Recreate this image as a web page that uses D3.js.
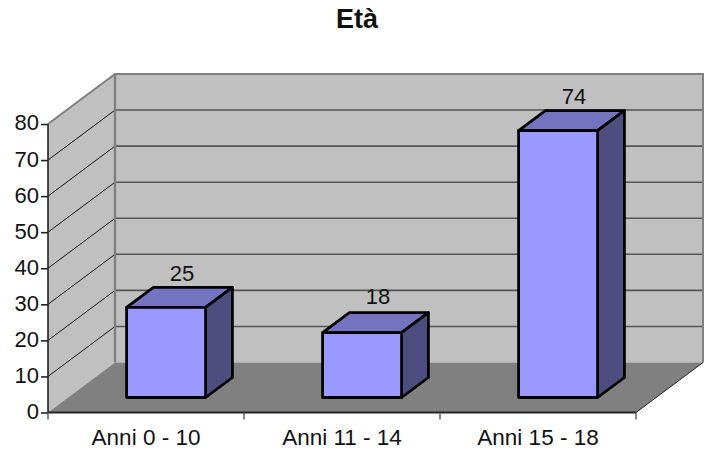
<!DOCTYPE html>
<html><head><meta charset="utf-8">
<script src="https://cdn.jsdelivr.net/npm/d3@7"></script>
<style>html,body{margin:0;padding:0;background:#fff}svg{display:block}text{font-family:"Liberation Sans",Arial,sans-serif;fill:#111}</style>
</head><body><svg id="c" width="707" height="456"></svg>
<script>
const categories = ["Anni 0 - 10","Anni 11 - 14","Anni 15 - 18"];
const values = [25,18,74];
const yTicks = [0,10,20,30,40,50,60,70,80];
const chartTitle = "Età";

const svg = d3.select("#c");
const x = d3.scaleBand().domain(categories).range([48,636]).paddingInner(0).paddingOuter(0);
const y = d3.scaleLinear().domain([0,80]).range([412.5,124]);
const depth = {dx:67,dy:-50};
const barFront = .3, barBack = .7, barWidth = 79;
const labelLift = [6,9,7];
const P = pts => pts.map(p=>p.join(",")).join(" ");
const wallTop = y(80)+depth.dy, wallBottom = y(0)+depth.dy;
const backL = x.range()[0]+depth.dx, backR = x.range()[1]+depth.dx;
const FS = 22;

// walls
svg.append("polygon").attr("points",P([[48,y(0)],[48,y(80)],[backL,wallTop],[backL,wallBottom]])).attr("fill","#c0c0c0");
svg.append("rect").attr("x",backL).attr("y",wallTop).attr("width",backR-backL).attr("height",wallBottom-wallTop).attr("fill","#c0c0c0");
svg.append("polygon").attr("points",P([[48,y(0)],[636,y(0)],[backR,wallBottom],[backL,wallBottom]])).attr("fill","#808080");

// gridlines
yTicks.slice(1,-1).forEach(t=>{
  svg.append("line").attr("x1",48).attr("y1",y(t)).attr("x2",backL).attr("y2",y(t)+depth.dy).attr("stroke","#111").attr("stroke-width",1);
  svg.append("line").attr("x1",backL).attr("y1",y(t)+depth.dy).attr("x2",backR).attr("y2",y(t)+depth.dy).attr("stroke","#555").attr("stroke-width",1.6);
});
// wall edges
svg.append("polyline").attr("points",P([[48,y(80)],[backL,wallTop],[backR,wallTop],[backR,wallBottom]])).attr("fill","none").attr("stroke","#808080").attr("stroke-width",2);
svg.append("line").attr("x1",backL).attr("y1",wallTop).attr("x2",backL).attr("y2",wallBottom).attr("stroke","#808080").attr("stroke-width",2.4);
svg.append("line").attr("x1",636).attr("y1",y(0)).attr("x2",backR).attr("y2",wallBottom).attr("stroke","#222").attr("stroke-width",1);

// axes
const ay = svg.append("g").attr("transform","translate(48,0)").call(d3.axisLeft(y).tickValues(yTicks).tickSize(7).tickPadding(2).tickFormat(d3.format("d")));
ay.selectAll("path,line").attr("stroke","#222").attr("stroke-width",1.6);
ay.select("path").attr("d",`M0,${y(80)}V${y(0)}`);
ay.selectAll("text").attr("font-size",FS).style("font-family",'"Liberation Sans",Arial,sans-serif').attr("fill","#111").attr("dy","0.27em");
const ax = svg.append("g").attr("transform",`translate(0,${y(0)})`).call(d3.axisBottom(x).tickSize(7));
ax.selectAll(".tick line").remove();
ax.select("path").attr("d",`M48,0H636`).attr("stroke","#222").attr("stroke-width",2);
d3.range(4).forEach(i=>ax.append("line").attr("x1",48+i*x.bandwidth()).attr("x2",48+i*x.bandwidth()).attr("y1",0).attr("y2",7).attr("stroke","#555").attr("stroke-width",1.4));
ax.selectAll("text").attr("font-size",FS+.5).attr("y",32.5).attr("dy",0).style("font-family",'"Liberation Sans",Arial,sans-serif').attr("fill","#111");

// bars
categories.forEach((c,i)=>{
  const v = values[i], fx = x(c)+x.bandwidth()/2-barWidth/2+depth.dx*barFront;
  const by = y(0)+depth.dy*barFront, ty = by-(y(0)-y(v));
  const ddx = depth.dx*(barBack-barFront), ddy = depth.dy*(barBack-barFront);
  const g = svg.append("g").attr("stroke","#000").attr("stroke-width",2.8).attr("stroke-linejoin","round");
  g.append("polygon").attr("points",P([[fx,ty],[fx+barWidth,ty],[fx+barWidth+ddx,ty+ddy],[fx+ddx,ty+ddy]])).attr("fill","#7373bf");
  g.append("polygon").attr("points",P([[fx+barWidth,ty],[fx+barWidth+ddx,ty+ddy],[fx+barWidth+ddx,by+ddy],[fx+barWidth,by]])).attr("fill","#4d4d80");
  g.append("rect").attr("x",fx).attr("y",ty).attr("width",barWidth).attr("height",by-ty).attr("fill","#9999ff");
  svg.append("text").attr("x",fx+barWidth/2+16).attr("y",ty+ddy-labelLift[i]).attr("text-anchor","middle").attr("font-size",FS).text(v);
});

svg.append("text").attr("x",357).attr("y",28).attr("text-anchor","middle").attr("font-size",27).attr("font-weight","bold").text(chartTitle);
</script></body></html>
